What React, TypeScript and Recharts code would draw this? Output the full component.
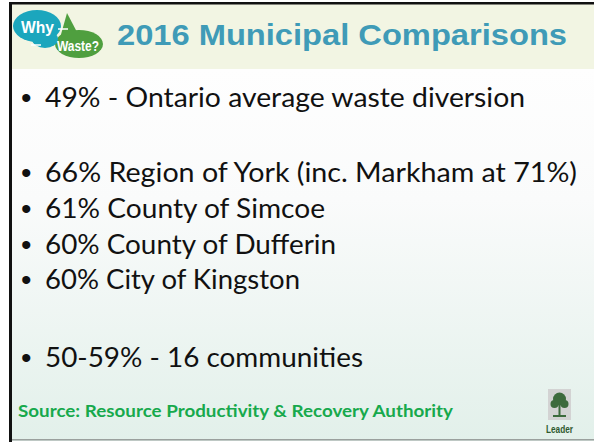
import { Surface, Layer, Rectangle } from "recharts";

const W = 594;
const H = 442;

// slide content
const title = "2016 Municipal Comparisons";
const shares = ["49%", "66%", "61%", "60%", "60%", "50-59%"];
const places = [
  "- Ontario average waste diversion",
  "Region of York (inc. Markham at 71%)",
  "County of Simcoe",
  "County of Dufferin",
  "City of Kingston",
  "- 16 communities",
];
const source = "Source: Resource Productivity & Recovery Authority";

// measured from the slide: baseline and right edge of each bullet line
const baselines = [107, 182, 218, 254, 289, 367];
const lineEnds = [525, 577, 325, 336, 300, 363];

const WhyWasteLogo = () => (
  <Layer>
    <path d="M60 38 L67 13 L78 34 Z" fill="#4f9f3f" />
    <ellipse cx={79} cy={44} rx={24} ry={14} fill="#4f9f3f" />
    <ellipse cx={37} cy={26} rx={24} ry={16} fill="#1ba6bd" />
    <ellipse cx={45} cy={39} rx={13} ry={9} fill="#1ba6bd" />
    <text x={21} y={33} fill="#fff" fontFamily="Liberation Sans" fontWeight="bold" fontSize={16} textLength={33} lengthAdjust="spacingAndGlyphs">
      Why
    </text>
    <text x={57} y={51} fill="#fff" fontFamily="Liberation Sans Narrow, Liberation Sans" fontWeight="bold" fontSize={14} textLength={42} lengthAdjust="spacingAndGlyphs">
      Waste?
    </text>
    <line x1={58} y1={29} x2={68} y2={29} stroke="#fff" strokeWidth={1.5} />
    <line x1={31} y1={45} x2={41} y2={45} stroke="#fff" strokeWidth={1.5} />
  </Layer>
);

const LeaderLogo = () => (
  <Layer>
    <Rectangle x={548} y={389} width={23} height={31} fill="#d3d3d3" />
    <circle cx={559.5} cy={399} r={6.5} fill="#3d6b3d" />
    <circle cx={554.5} cy={404} r={4} fill="#3d6b3d" />
    <circle cx={564.5} cy={404} r={4} fill="#3d6b3d" />
    <rect x={558.5} y={404} width={2} height={12} fill="#3d6b3d" />
    <rect x={553} y={415} width={13} height={2} fill="#3d6b3d" />
    <text x={546} y={433} fill="#2f5a2f" fontFamily="Liberation Sans Narrow, Liberation Sans" fontWeight="bold" fontSize={10} textLength={27} lengthAdjust="spacingAndGlyphs">
      Leader
    </text>
  </Layer>
);

export default function App() {
  return (
    <div style={{ position: "absolute", left: 0, top: 0, width: W, height: H }}>
      <Surface width={W} height={H} viewBox={{ x: 0, y: 0, width: W, height: H }}>
        <defs>
          <linearGradient id="bodyFade" x1="0" y1="0" x2="0" y2="1">
            <stop offset="0%" stopColor="#fefefe" />
            <stop offset="35%" stopColor="#fafbfb" />
            <stop offset="100%" stopColor="#e2f0ea" />
          </linearGradient>
        </defs>
        <Rectangle x={0} y={0} width={W} height={H} fill="#ffffff" />
        <Rectangle x={10} y={69} width={W - 10} height={H - 70} fill="url(#bodyFade)" />
        <Rectangle x={10} y={3} width={W - 10} height={66} fill="#f2f5e3" />
        <rect x={9} y={2} width={W - 9} height={2.5} fill="#111" />
        <rect x={9} y={2} width={3} height={H - 2} fill="#111" />
        <rect x={12} y={439} width={W - 12} height={1.5} fill="#9aa09d" />

        <WhyWasteLogo />
        <text
          x={117}
          y={45}
          fill="#3f9bb7"
          fontFamily="Liberation Sans"
          fontWeight="bold"
          fontSize={30}
          textLength={450}
          lengthAdjust="spacingAndGlyphs"
        >
          {title}
        </text>

        {shares.map((s, i) => (
          <g key={i}>
            <text x={21} y={baselines[i] + 1} fill="#111" fontFamily="Liberation Sans" fontSize={30}>
              •
            </text>
            <text
              x={45}
              y={baselines[i]}
              fill="#111"
              fontFamily="Lato"
              fontSize={26}
              textLength={lineEnds[i] - 45}
              lengthAdjust="spacingAndGlyphs"
            >
              {`${s} ${places[i]}`}
            </text>
          </g>
        ))}

        <text
          x={18}
          y={417}
          fill="#17a94c"
          fontFamily="Lato"
          fontWeight="bold"
          fontSize={17}
          textLength={435}
          lengthAdjust="spacingAndGlyphs"
        >
          {source}
        </text>
        <LeaderLogo />
      </Surface>
    </div>
  );
}
